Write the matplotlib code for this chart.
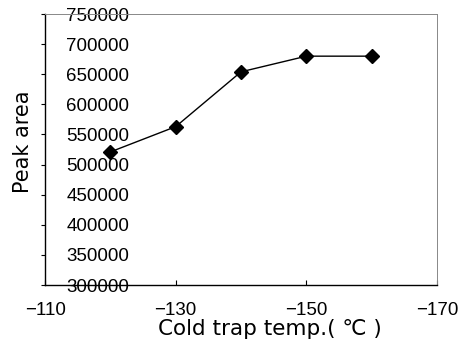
import numpy as np
import matplotlib
matplotlib.use('Agg')
import matplotlib.pyplot as plt

plt.rcParams['font.family'] = ['Liberation Sans', 'DejaVu Sans']

# data
temps = [-120, -130, -140, -150, -160]
peak_area = [521000, 563000, 654000, 680000, 680000]
x_ticks = [-110, -130, -150, -170]
y_ticks = [300000, 350000, 400000, 450000, 500000, 550000, 600000, 650000, 700000, 750000]

fig = plt.figure(figsize=(4.6, 3.62), dpi=100)
ax = fig.add_axes([0.098, 0.2127, 0.852, 0.7486])

ax.plot(temps, peak_area, '-', color='black', lw=1.0,
        marker='D', ms=7.5, mfc='black', mec='black')

ax.set_xlim(-110, -170)
ax.set_ylim(300000, 750000)
ax.set_xticks(x_ticks)
ax.set_yticks(y_ticks)
ax.set_xticklabels([str(t).replace('-', '\u2212') for t in x_ticks])
ax.set_yticklabels([str(v) for v in y_ticks])

# y tick labels sit inside the frame, right of the axis
ax.tick_params(axis='y', direction='out', length=3, width=0.8, pad=-63.5,
               labelsize=13.5)
ax.tick_params(axis='x', direction='in', length=3.5, width=0.8, pad=12,
               labelsize=13.5)

for s in ['left', 'bottom']:
    ax.spines[s].set_color('black')
    ax.spines[s].set_linewidth(1.0)
for s in ['top', 'right']:
    ax.spines[s].set_color('#888888')
    ax.spines[s].set_linewidth(0.7)
    ax.spines[s].set_linestyle((0, (1.5, 1)))

ax.set_xlabel('Cold trap temp.( \u2103 )', fontsize=15.5, family='DejaVu Sans')
ax.xaxis.set_label_coords(0.574, -0.124)
ax.set_ylabel('Peak area', fontsize=15, family='DejaVu Sans')
ax.yaxis.set_label_coords(-0.031, 0.528)

fig.savefig('out.png', dpi=100)
